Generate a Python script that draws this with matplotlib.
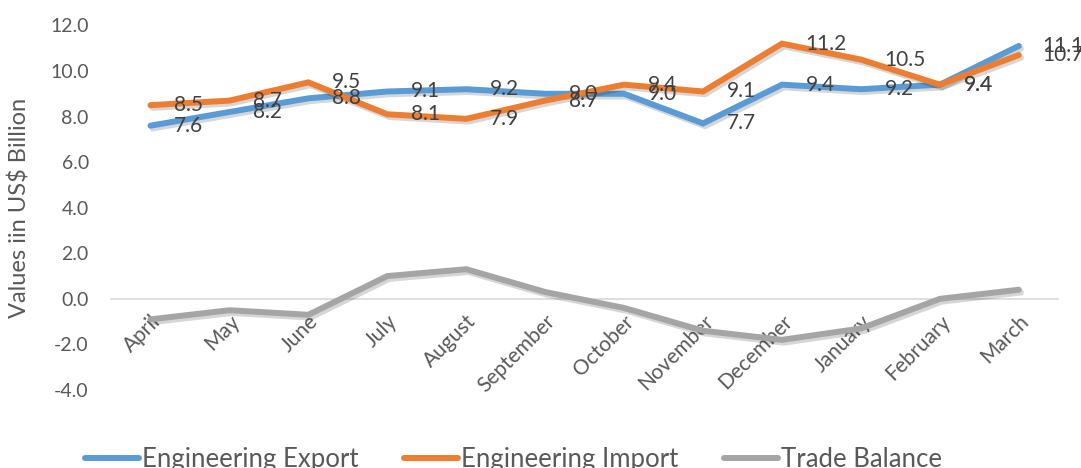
import matplotlib
matplotlib.use("Agg")
import matplotlib.pyplot as plt
import matplotlib.patheffects as pe

months = ["April", "May", "June", "July", "August", "September", "October",
          "November", "December", "January", "February", "March"]
export_vals = [7.6, 8.2, 8.8, 9.1, 9.2, 9.0, 9.0, 7.7, 9.4, 9.2, 9.4, 11.1]
import_vals = [8.5, 8.7, 9.5, 8.1, 7.9, 8.7, 9.4, 9.1, 11.2, 10.5, 9.4, 10.7]
balance_vals = [-0.9, -0.5, -0.7, 1.0, 1.3, 0.3, -0.4, -1.4, -1.8, -1.3, 0.0, 0.4]
yticks = [-4.0, -2.0, 0.0, 2.0, 4.0, 6.0, 8.0, 10.0, 12.0]

plt.rcParams['font.family'] = ['Lato', 'DejaVu Sans']

fig = plt.figure(figsize=(10.81, 4.68), dpi=100)
ax = fig.add_axes([0.1027, 0.1667, 0.979 - 0.1027, 0.9457 - 0.1667])

for s in ['top', 'right', 'left']:
    ax.spines[s].set_visible(False)
ax.spines['bottom'].set_position(('data', 0))
ax.spines['bottom'].set_color('#D9D9D9')
ax.spines['bottom'].set_linewidth(1.2)
ax.spines['bottom'].set_zorder(1)

x = list(range(len(months)))
shadow = [pe.SimpleLineShadow(offset=(1.5, -2), shadow_color='k', alpha=0.16), pe.Normal()]

series = [
    ("Engineering Export", export_vals, "#5B9BD5", True),
    ("Engineering Import", import_vals, "#ED7D31", True),
    ("Trade Balance", balance_vals, "#A5A5A5", False),
]
for name, vals, col, lab in series:
    ax.plot(x, vals, color=col, lw=4.3, solid_capstyle='round', solid_joinstyle='miter',
            label=name, path_effects=shadow, zorder=3)
    if lab:
        for xi, v in zip(x, vals):
            ax.annotate(f"{v:.1f}", (xi, v), xytext=(17, 0), textcoords='offset points',
                        ha='left', va='center', fontsize=15, color='#404040', zorder=5)

ax.set_xlim(-0.5, len(months) - 0.5)
ax.set_ylim(-4, 12)
ax.set_yticks(yticks)
ax.set_yticklabels([f"{t:.1f}" for t in yticks])
ax.tick_params(axis='y', length=0, pad=16, labelsize=14, labelcolor='#595959')
ax.tick_params(axis='x', length=0, pad=9, labelsize=15, labelcolor='#595959')
ax.set_xticks(x)
ax.set_xticklabels(months)
for t in ax.get_xticklabels():
    t.set_rotation(45)
    t.set_ha('right')
    t.set_va('top')
    t.set_rotation_mode('anchor')

ax.set_ylabel("Values iin US$ Billion", fontsize=17, color='#595959', labelpad=14)

handles, labels = ax.get_legend_handles_labels()
leg = fig.legend(handles, labels, loc='center', bbox_to_anchor=(0.475, 0.018), ncol=3,
                 frameon=False, fontsize=18.5, handlelength=2.1, handletextpad=0.1,
                 columnspacing=1.8, labelcolor='#595959')
for h in leg.legend_handles:
    h.set_path_effects([])
    h.set_linewidth(4.3)

fig.savefig("out.png", dpi=100)
